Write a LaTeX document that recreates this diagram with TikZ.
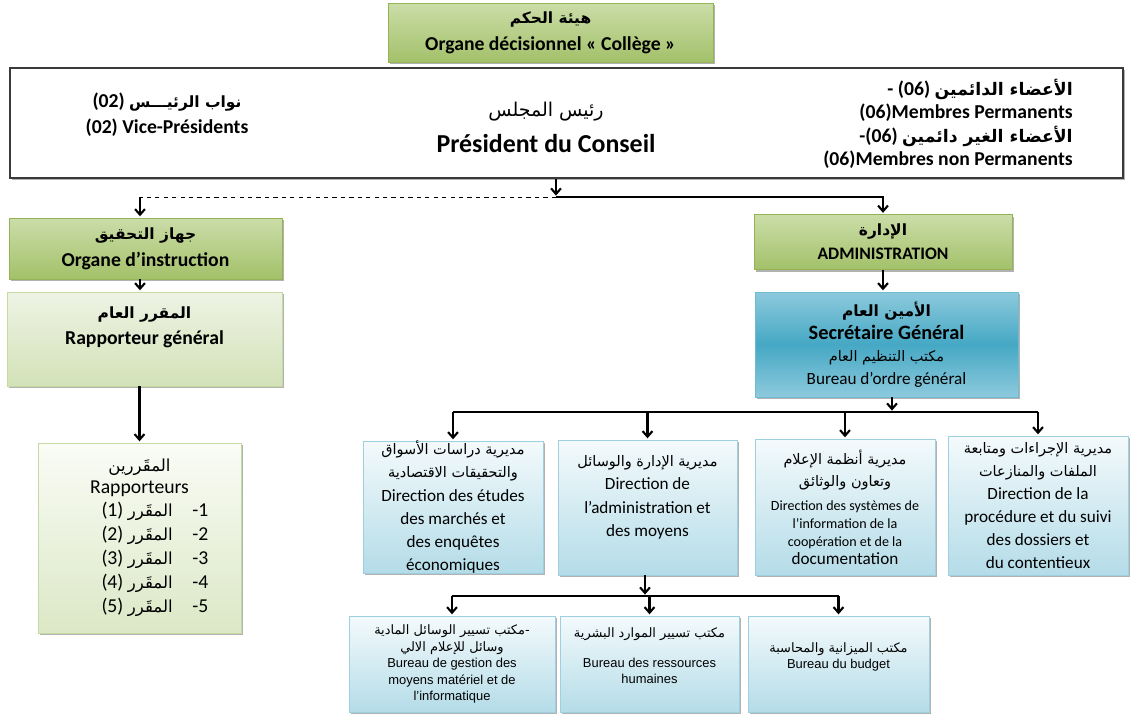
\documentclass[tikz,border=0pt]{standalone}
\usepackage{fontspec}
\setmainfont{Carlito}
\newfontfamily\arabicfont[Script=Arabic]{DejaVu Sans}
\newfontfamily\arialfont{Liberation Sans}
\TeXXeTstate=1
\usetikzlibrary{arrows.meta, positioning, shadows}
\definecolor{hdrtop}{HTML}{CBDDA8}
\definecolor{hdrbot}{HTML}{A3C16A}
\definecolor{hdredge}{HTML}{93B355}
\definecolor{paletop}{HTML}{EEF3E4}
\definecolor{palebot}{HTML}{D3E2B8}
\definecolor{paleedge}{HTML}{C5D9A2}
\definecolor{whitegreen}{HTML}{FAFCF6}
\definecolor{sgedge}{HTML}{6FBBD1}
\definecolor{sglight}{HTML}{8DCADD}
\definecolor{sgmid}{HTML}{45A8C4}
\definecolor{dirtop}{HTML}{F4FAFC}
\definecolor{dirbot}{HTML}{B4DCE8}
\definecolor{diredge}{HTML}{9FD0E0}
\definecolor{frameline}{HTML}{3A3A3A}

\newcommand{\artxt}[1]{{\arabicfont\beginR #1\endR}}
\newcommand{\arhd}[1]{{\arabicfont\fontsize{11}{14}\selectfont\beginR #1\endR}}
\newcommand{\artsm}[1]{{\arabicfont\fontsize{10.3}{14}\selectfont\beginR #1\endR}}
\newcommand{\arlist}[1]{{\arabicfont\fontsize{11.8}{14}\selectfont\beginR #1\endR}}

\begin{document}
\begin{tikzpicture}[x=0.025cm, y=-0.025cm,
    box/.style 2 args={rectangle, inner sep=0pt, minimum width=#1*0.025cm, minimum height=#2*0.025cm, align=center,
        drop shadow={shadow xshift=1.6pt, shadow yshift=-1.6pt, fill=black, opacity=0.3}},
    hdr/.style={draw=hdredge, top color=hdrtop, bottom color=hdrbot, font=\fontsize{14}{19}\selectfont\bfseries},
    pale/.style={draw=paleedge, top color=paletop, bottom color=palebot},
    dirbox/.style={draw=diredge, top color=dirtop, bottom color=dirbot, font=\fontsize{12.2}{16.4}\selectfont},
    burbox/.style={draw=diredge, top color=dirtop, bottom color=dirbot, font=\arialfont\fontsize{9.2}{11.7}\selectfont},
    arr/.style={-{Straight Barb[length=4pt, width=7pt]}, line width=1.5pt, shorten >=1pt},
    link/.style={line width=1.7pt}
]
\useasboundingbox (0,0) rectangle (1133,718);

% top
\node[box={325}{59}, hdr] (college) at (550.5,32.5) {\arhd{هيئة الحكم}\\Organe décisionnel « Collège »};
\node[box={1113}{110}, draw=frameline, line width=1.4pt, fill=white] (council) at (566.5,123) {};
\node[font=\fontsize{14}{18.5}\selectfont\bfseries, align=center] (vice) at (167,115) {(02) \arhd{نواب الرئيـــس}\\(02) Vice-Présidents};
\node[font=\fontsize{13.5}{20}\selectfont] (presar) at (546,112) {\artxt{رئيس المجلس}};
\node[font=\fontsize{18.4}{22}\selectfont\bfseries] (presfr) at (546,144) {Président du Conseil};
\node[font=\fontsize{14}{16.7}\selectfont\bfseries, align=right, anchor=east, inner sep=0pt] (members) at (1073,124)
  {- (06) {\fontsize{12.3}{16.7}\selectfont\artxt{الأعضاء الدائمين}}\\(06)Membres Permanents\\-(06) {\fontsize{12.3}{16.7}\selectfont\artxt{الأعضاء الغير دائمين}}\\(06)Membres non Permanents};

\coordinate (pj) at (556,197);
\coordinate (dj) at (140,197);
\coordinate (sj) at (892,412);
\coordinate (bj) at (645,596);

% left column
\node[box={273}{61}, hdr] (instr) at (145.5,248.5) {\arhd{جهاز التحقيق}\\Organe d’instruction};
\node[box={275}{94}, pale, font=\fontsize{14}{19}\selectfont\bfseries] (rapgen) at (144.5,339) {\arhd{المقرر العام}\\Rapporteur général\\\mbox{}};
\node[box={203}{190}, draw=paleedge, top color=whitegreen, bottom color=palebot!80!white, font=\fontsize{14}{17}\selectfont] (rapps) at (139.5,538)
  {\arlist{المقَررين}\\[-2pt]Rapporteurs\\
   \hspace*{22pt}(1) \arlist{المقَرر}\quad -1\\
   \hspace*{22pt}(2) \arlist{المقَرر}\quad -2\\
   \hspace*{22pt}(3) \arlist{المقَرر}\quad -3\\
   \hspace*{22pt}(4) \arlist{المقَرر}\quad -4\\
   \hspace*{22pt}(5) \arlist{المقَرر}\quad -5};

% right column
\node[box={258}{55}, hdr, font=\fontsize{12.5}{17}\selectfont\bfseries] (admin) at (883,242) {\arhd{الإدارة}\\ADMINISTRATION};
\node[box={263}{105}, draw=sgedge, top color=sglight, bottom color=sglight, middle color=sgmid, font=\fontsize{12.2}{16}\selectfont] (sg) at (886.5,344.5)
  {{\bfseries\arhd{الأمين العام}}\\{\fontsize{14.5}{19}\selectfont\bfseries Secrétaire Général}\\\artsm{مكتب التنظيم العام}\\Bureau d’ordre général};

\node[box={180}{132}, dirbox] (d1) at (453,507) {\artsm{مديرية دراسات الأسواق}\\\artsm{والتحقيقات الاقتصادية}\\Direction des études\\des marchés et\\des enquêtes\\économiques};
\node[box={179}{135}, dirbox] (d2) at (647.5,507.5) {\artsm{مديرية الإدارة والوسائل}\\Direction de\\l’administration et\\des moyens\\\mbox{}};
\node[box={180}{136}, dirbox, font=\fontsize{10}{12.8}\selectfont] (d3) at (845,507) {\artsm{مديرية أنظمة الإعلام}\\[3pt]\artsm{وتعاون والوثائق}\\[4pt]Direction des systèmes de\\l’information de la\\coopération et de la\\{\fontsize{12.2}{14}\selectfont documentation}};
\node[box={180}{139}, dirbox] (d4) at (1038,505.5) {\artsm{مديرية الإجراءات  ومتابعة}\\\artsm{الملفات والمنازعات}\\Direction de la\\procédure et du suivi\\des dossiers et\\du contentieux};

\node[box={206}{96}, burbox] (b1) at (452,664) {\artxt{-مكتب تسيير الوسائل المادية}\\\artxt{وسائل للإعلام الالي}\\Bureau de gestion des\\moyens matériel et de\\l’informatique};
\node[box={179}{96}, burbox] (b2) at (649.5,664) {\artxt{مكتب تسيير الموارد البشرية}\\[9pt]Bureau des ressources\\humaines\\\mbox{}};
\node[box={181}{96}, burbox] (b3) at (838.5,664) {\artxt{مكتب الميزانية والمحاسبة}\\Bureau du budget\\\mbox{}};

% connectors
\draw[arr] (council.south -| pj) -- (pj);
\draw[arr] (pj) -| (admin.north);
\draw[dashed] (pj) -- (dj);
\draw[arr] (dj) -- (dj |- instr.north);
\draw[arr] (instr.south -| dj) -- (rapgen.north -| dj);
\draw[arr] (rapgen.south -| rapps.north) -- (rapps.north);
\draw[arr] (admin.south) -- (admin.south |- sg.north);
\draw[arr] (sg.south -| sj) -- (sj);
\draw[link] (d1.north |- sj) -- (d4.north |- sj);
\foreach \d in {d1,d2,d3,d4} \draw[arr] (\d.north |- sj) -- (\d.north);
\draw[arr] (d2.south -| bj) -- (bj);
\draw[link] (b1.north |- bj) -- (b3.north |- bj);
\foreach \b in {b1,b2,b3} \draw[arr] (\b.north |- bj) -- (\b.north);
\end{tikzpicture}
\end{document}
